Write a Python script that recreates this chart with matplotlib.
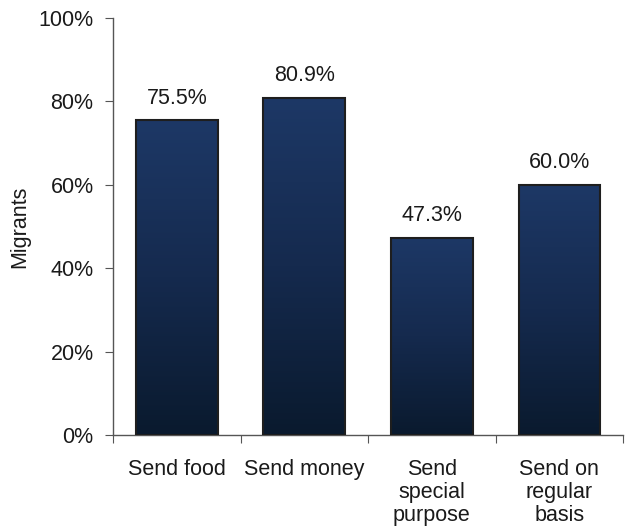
import matplotlib
matplotlib.use("Agg")
import matplotlib.pyplot as plt
import numpy as np
from matplotlib.colors import LinearSegmentedColormap

categories = ["Send food", "Send money", "Send\nspecial\npurpose", "Send on\nregular\nbasis"]
values = [75.5, 80.9, 47.3, 60.0]
value_labels = ["75.5%", "80.9%", "47.3%", "60.0%"]
yticks = [0, 20, 40, 60, 80, 100]
ytick_labels = ["0%", "20%", "40%", "60%", "80%", "100%"]

plt.rcParams['font.family'] = ['Liberation Sans', 'DejaVu Sans']

fig = plt.figure(figsize=(6.44, 5.30), dpi=100)
ax = fig.add_axes([0.1755, 0.179, 0.792, 0.787])

cmap = LinearSegmentedColormap.from_list("g", ["#0a1a2e", "#152a4e", "#1d3866"])
x = np.arange(len(categories))
width = 0.64
bars = ax.bar(x, values, width=width, color="none", edgecolor="#1e1e1e", linewidth=1.5, zorder=3)
grad = np.linspace(0, 1, 256).reshape(-1, 1)
for b in bars:
    x0, y0 = b.get_x(), b.get_y()
    w, h = b.get_width(), b.get_height()
    im = ax.imshow(grad, extent=[x0, x0 + w, y0, y0 + h], origin="lower",
                   cmap=cmap, aspect="auto", zorder=2)
    im.set_clip_path(b)

for xi, v, lab in zip(x, values, value_labels):
    ax.text(xi, v + 2.8, lab, ha="center", va="bottom", fontsize=15.5, color="#1a1a1a")

ax.set_xlim(-0.5, len(categories) - 0.5)
ax.set_ylim(0, 100)
ax.set_yticks(yticks)
ax.set_yticklabels(ytick_labels, fontsize=15.5, color="#1a1a1a")
ax.set_xticks(np.arange(len(categories) + 1) - 0.5, minor=False)
ax.set_xticklabels([])
ax.set_xticks(x, minor=True)
ax.set_xticklabels(categories, minor=True, fontsize=15.5, color="#1a1a1a", linespacing=1.12, va="top")
ax.tick_params(axis="x", which="minor", length=0, pad=17)
ax.tick_params(axis="x", which="major", length=6, color="#555555", direction="out")
ax.tick_params(axis="y", length=6, color="#555555", direction="out", pad=8)
ax.set_ylabel("Migrants", fontsize=15.5, color="#1a1a1a", labelpad=6)

for s in ["top", "right"]:
    ax.spines[s].set_visible(False)
for s in ["left", "bottom"]:
    ax.spines[s].set_color("#555555")
    ax.spines[s].set_linewidth(1.0)

fig.savefig("out.png", dpi=100)
